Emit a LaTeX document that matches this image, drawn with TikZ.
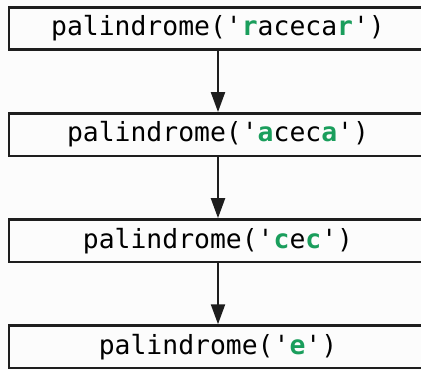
\documentclass[tikz,border=0pt]{standalone}
\usepackage{fontspec}
\setmonofont{DejaVu Sans Mono}
\usetikzlibrary{arrows.meta,positioning}
\definecolor{hlgreen}{RGB}{26,158,92}
\definecolor{framegray}{RGB}{30,30,30}
\definecolor{paper}{RGB}{252,252,252}
\newcommand{\hlch}[1]{\textbf{\textcolor{hlgreen}{#1}}}

\begin{document}
\begin{tikzpicture}[>={Triangle[length=20pt,width=14pt]},
  call/.style={draw=framegray,line width=2.6pt,fill=paper,minimum width=418pt,
    minimum height=42.5pt,inner sep=0pt,font=\ttfamily\fontsize{26.4}{30}\selectfont},
  step arrow/.style={->,line width=2.2pt,framegray},
  node distance=61pt]
  \useasboundingbox[fill=paper] (0,0) rectangle (421pt,-370pt);
  \node[call] (r1) at (218pt,-28.5pt) {palindrome('\hlch{r}aceca\hlch{r}')};
  \node[call,below=of r1] (r2) {palindrome('\hlch{a}cec\hlch{a}')};
  \node[call,below=of r2] (r3) {palindrome('\hlch{c}e\hlch{c}')};
  \node[call,below=of r3] (r4) {palindrome('\hlch{e}')};
  \draw[step arrow] (r1) -- (r2);
  \draw[step arrow] (r2) -- (r3);
  \draw[step arrow] (r3) -- (r4);
\end{tikzpicture}
\end{document}
